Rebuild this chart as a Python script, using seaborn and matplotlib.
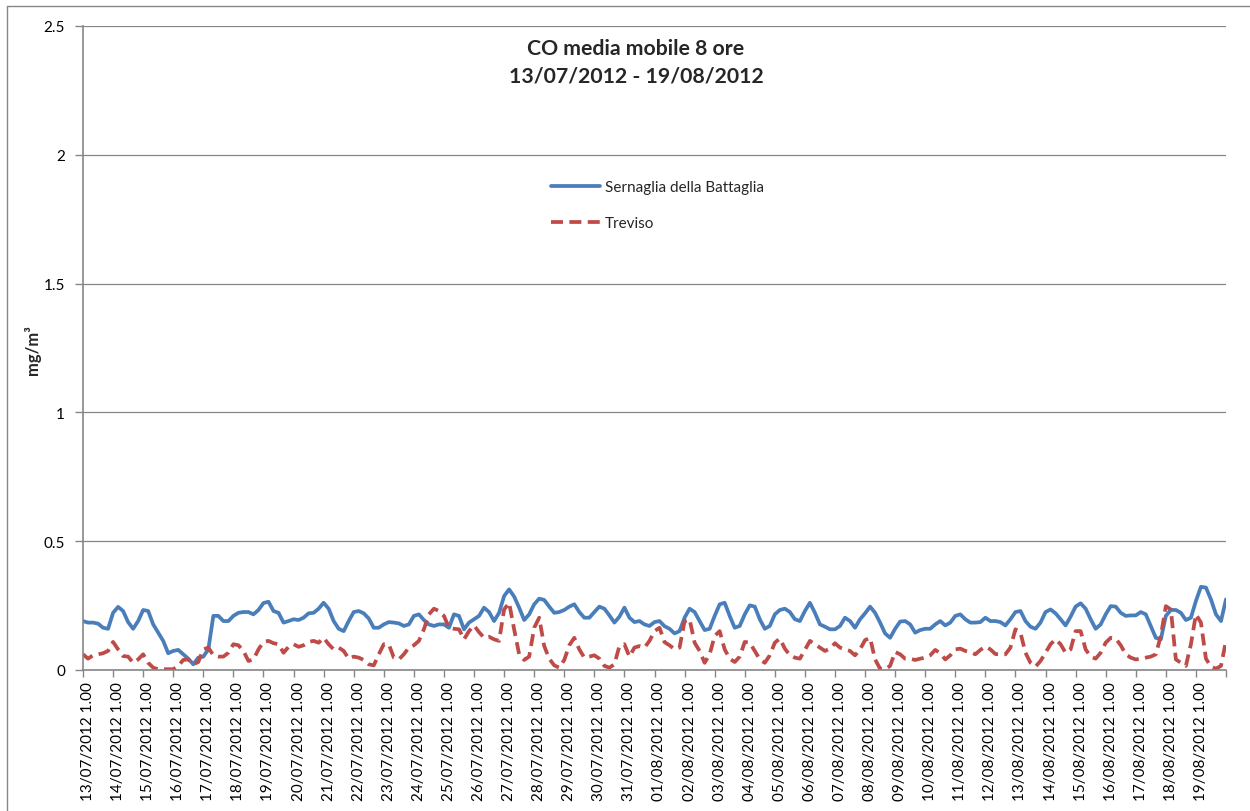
import numpy as np
import pandas as pd
import matplotlib
matplotlib.use("Agg")
import matplotlib.pyplot as plt
import matplotlib.transforms as mtransforms
from matplotlib.lines import Line2D
import seaborn as sns

# CO, 8-hour moving average (mg/m3), one value every 4 hours from 13/07/2012 01:00
start = "2012-07-13 01:00"
step_hours = 4
n_days = 38

station_names = ["Sernaglia della Battaglia", "Treviso"]

sernaglia = [
    0.19, 0.184, 0.184, 0.18, 0.164, 0.16, 0.222, 0.245, 0.229, 0.186,
    0.16, 0.19, 0.233, 0.229, 0.177, 0.145, 0.113, 0.065, 0.074, 0.078,
    0.061, 0.044, 0.022, 0.048, 0.052, 0.08, 0.21, 0.21, 0.19, 0.19,
    0.21, 0.222, 0.225, 0.225, 0.216, 0.233, 0.26, 0.265, 0.229,
    0.222, 0.184, 0.19, 0.197, 0.194, 0.203, 0.22, 0.222, 0.238, 0.261,
    0.238, 0.19, 0.16, 0.151, 0.19, 0.225, 0.229, 0.22, 0.2, 0.164,
    0.164, 0.177, 0.186, 0.184, 0.181, 0.171, 0.177, 0.21, 0.216, 0.194,
    0.177, 0.171, 0.177, 0.177, 0.164, 0.216, 0.21, 0.158, 0.184,
    0.197, 0.21, 0.242, 0.225, 0.19, 0.222, 0.287, 0.313, 0.285, 0.242,
    0.194, 0.216, 0.255, 0.277, 0.272, 0.246, 0.222, 0.225, 0.233, 0.246,
    0.255, 0.225, 0.203, 0.203, 0.225, 0.246, 0.238, 0.212, 0.184, 0.207,
    0.242, 0.203, 0.186, 0.19, 0.177, 0.171, 0.186, 0.19, 0.17,
    0.16, 0.142, 0.151, 0.203, 0.238, 0.225, 0.19, 0.155, 0.16, 0.21,
    0.255, 0.261, 0.21, 0.164, 0.171, 0.216, 0.251, 0.246, 0.197, 0.16,
    0.171, 0.216, 0.233, 0.238, 0.225, 0.197, 0.19, 0.229, 0.261, 0.222,
    0.177, 0.168, 0.158, 0.158, 0.171, 0.203, 0.19, 0.164, 0.197,
    0.22, 0.246, 0.222, 0.184, 0.142, 0.125, 0.16, 0.188, 0.19, 0.177,
    0.145, 0.155, 0.16, 0.16, 0.177, 0.19, 0.173, 0.184, 0.21, 0.216,
    0.197, 0.184, 0.184, 0.186, 0.203, 0.19, 0.19, 0.186, 0.173, 0.197,
    0.225, 0.229, 0.19, 0.168, 0.16, 0.184, 0.225, 0.235, 0.22,
    0.197, 0.173, 0.207, 0.246, 0.259, 0.238, 0.197, 0.16, 0.177, 0.216,
    0.248, 0.246, 0.222, 0.21, 0.212, 0.212, 0.225, 0.216, 0.171, 0.125,
    0.119, 0.21, 0.233, 0.233, 0.222, 0.194, 0.203, 0.268, 0.323, 0.32,
    0.274, 0.216, 0.19, 0.274,
]

treviso = [
    0.061, 0.044, 0.057, 0.061, 0.065, 0.074, 0.109, 0.08, 0.054, 0.052,
    0.028, 0.041, 0.061, 0.028, 0.009, 0.003, 0.003, 0.003, 0.003, 0.016,
    0.039, 0.041, 0.022, 0.031, 0.08, 0.087, 0.057, 0.052, 0.052, 0.067,
    0.1, 0.096, 0.074, 0.035, 0.041, 0.08, 0.109, 0.113, 0.104,
    0.1, 0.067, 0.09, 0.1, 0.09, 0.096, 0.109, 0.113, 0.106, 0.125,
    0.1, 0.08, 0.087, 0.074, 0.044, 0.052, 0.048, 0.039, 0.022, 0.018,
    0.061, 0.1, 0.1, 0.048, 0.041, 0.061, 0.087, 0.096, 0.113, 0.158,
    0.216, 0.238, 0.229, 0.21, 0.164, 0.16, 0.158, 0.119, 0.151,
    0.173, 0.147, 0.125, 0.129, 0.119, 0.113, 0.235, 0.261, 0.158, 0.061,
    0.039, 0.052, 0.164, 0.203, 0.093, 0.044, 0.018, 0.009, 0.039, 0.096,
    0.125, 0.08, 0.048, 0.052, 0.057, 0.044, 0.016, 0.009, 0.022, 0.093,
    0.1, 0.052, 0.087, 0.093, 0.087, 0.113, 0.151, 0.164, 0.108,
    0.096, 0.08, 0.087, 0.19, 0.197, 0.106, 0.074, 0.028, 0.061, 0.132,
    0.151, 0.08, 0.044, 0.031, 0.052, 0.109, 0.106, 0.074, 0.041, 0.028,
    0.057, 0.106, 0.122, 0.083, 0.057, 0.048, 0.044, 0.078, 0.113, 0.1,
    0.087, 0.074, 0.083, 0.104, 0.087, 0.08, 0.074, 0.057, 0.08,
    0.116, 0.125, 0.041, 0.005, 0.003, 0.016, 0.07, 0.061, 0.044, 0.044,
    0.039, 0.044, 0.048, 0.057, 0.078, 0.065, 0.041, 0.057, 0.08, 0.083,
    0.074, 0.07, 0.061, 0.078, 0.091, 0.08, 0.062, 0.061, 0.061, 0.087,
    0.158, 0.145, 0.067, 0.028, 0.013, 0.035, 0.067, 0.1, 0.119,
    0.1, 0.067, 0.08, 0.151, 0.151, 0.08, 0.052, 0.044, 0.067, 0.106,
    0.125, 0.122, 0.096, 0.061, 0.048, 0.041, 0.044, 0.048, 0.052, 0.061,
    0.132, 0.248, 0.235, 0.041, 0.028, 0.016, 0.1, 0.216, 0.184, 0.044,
    0.013, 0.005, 0.016, 0.113,
]

day_labels = ([f"{d:02d}/07/2012 1.00" for d in range(13, 32)]
              + [f"{d:02d}/08/2012 1.00" for d in range(1, 20)])

y_ticks = [0, 0.5, 1, 1.5, 2, 2.5]
y_tick_labels = ["0", "0.5", "1", "1.5", "2", "2.5"]

title_text = "CO media mobile 8 ore\n13/07/2012 - 19/08/2012"
y_label = "mg/m³"

colors = {"Sernaglia della Battaglia": "#4A7EBB", "Treviso": "#BE4B48"}
dash_styles = {"Sernaglia della Battaglia": "", "Treviso": (3.2, 1.7)}
grey = "#868686"

# ---------------------------------------------------------------------------
sns.set_theme(style="white")
plt.rcParams["font.family"] = ["Lato", "DejaVu Sans"]

times = pd.date_range(start, periods=len(sernaglia), freq=f"{step_hours}h")
df = pd.DataFrame({
    "Ora": list(times) * 2,
    "CO": sernaglia + treviso,
    "Stazione": [station_names[0]] * len(sernaglia) + [station_names[1]] * len(treviso),
})

W, H = 1250, 812
fig = plt.figure(figsize=(W / 100, H / 100), dpi=100)
ax = fig.add_axes([83 / W, (H - 671) / H, 1143 / W, 644 / H])

sns.lineplot(data=df, x="Ora", y="CO", hue="Stazione", style="Stazione",
             palette=colors, dashes=dash_styles, linewidth=2.7, ax=ax)

t0 = pd.Timestamp(start)
ax.set_xlim(t0, t0 + pd.Timedelta(days=n_days))
ax.set_ylim(0, 2.5)

tick_pos = pd.date_range(t0, periods=n_days + 1, freq="D")
ax.set_xticks(tick_pos)
ax.set_xticklabels(day_labels + [""], rotation=90, fontsize=11)
ax.set_yticks(y_ticks)
ax.set_yticklabels(y_tick_labels, fontsize=11)

ax.set_xlabel("")
ax.set_ylabel("")

ax.tick_params(axis="x", direction="out", length=5, width=1, color=grey, pad=3,
               labelcolor="#000000", bottom=True)
ax.tick_params(axis="y", direction="out", length=6, width=1, color=grey, pad=7,
               labelcolor="#000000", left=True)

# shift the date labels slightly to the right of their tick marks
offset = mtransforms.ScaledTranslation(5 / 100, 0, fig.dpi_scale_trans)
for lab in ax.get_xticklabels():
    lab.set_transform(lab.get_transform() + offset)

ax.yaxis.grid(True, color=grey, linewidth=0.9)
ax.xaxis.grid(False)
for side in ["top", "right"]:
    ax.spines[side].set_visible(False)
for side in ["left", "bottom"]:
    ax.spines[side].set_color(grey)
    ax.spines[side].set_linewidth(1.2)

handles, labels = ax.get_legend_handles_labels()
ax.legend(handles, labels, loc="upper left",
          bbox_to_anchor=(545 / W, 1 - 175 / H), bbox_transform=fig.transFigure,
          frameon=False, fontsize=11, handlelength=3.2, labelspacing=1.45,
          handletextpad=0.3, borderaxespad=0)

fig.text(636 / W, 1 - 62.5 / H, title_text, ha="center", va="center",
         fontsize=15.3, fontweight="bold", linespacing=1.45)
fig.text(33 / W, 1 - 350 / H, y_label, ha="center", va="center",
         rotation=90, fontsize=12, fontweight="bold")

# chart-area frame
fig.add_artist(Line2D([7 / W, 7 / W], [0, 1 - 7 / H], color=grey, lw=1))
fig.add_artist(Line2D([7 / W, 1], [1 - 7 / H, 1 - 7 / H], color=grey, lw=1))

fig.savefig("out.png", dpi=100)
